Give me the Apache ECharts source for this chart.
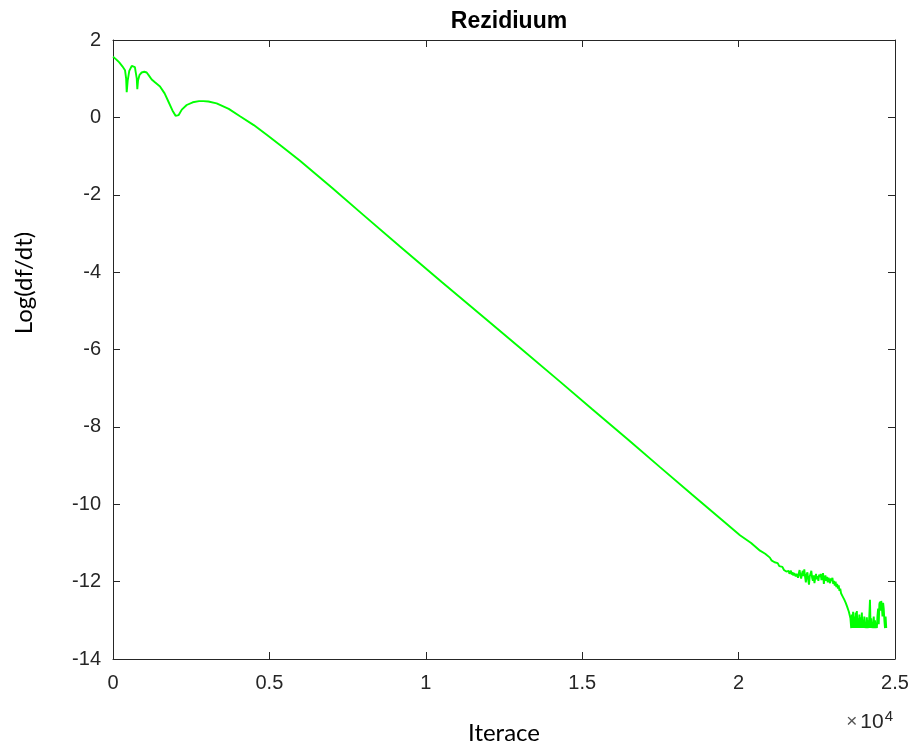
<!DOCTYPE html>
<html>
<head>
<meta charset="utf-8">
<script src="https://cdn.jsdelivr.net/npm/echarts@6/dist/echarts.min.js"></script>
<style>
html,body{margin:0;padding:0;background:#fff;}
#chart{width:914px;height:747px;}
</style>
</head>
<body>
<div id="chart"></div>
<script>
var titleText = 'Rezidiuum';
var xAxisName = 'Iterace';
var yAxisName = 'Log(df/dt)';
var xTicks = [0, 5000, 10000, 15000, 20000, 25000];
var yTicks = [-14, -12, -10, -8, -6, -4, -2, 0, 2];

var iterations = [
  0, 100, 200, 300, 384, 420, 438, 470, 520, 600, 650, 700, 760, 777, 800, 850, 917, 1000, 1077, 1150,
  1237, 1350, 1503, 1650, 1770, 1900, 2000, 2036, 2100, 2200, 2356, 2550, 2750, 2887, 3050, 3313, 3700, 4060,
  4500, 4914, 5400, 5978, 7000, 8000, 9175, 10500, 11947, 13000, 14290, 15303, 16500, 17487, 18500, 19405,
  20044, 20400, 20685, 20850,
  21000, 21050, 21100, 21150, 21200, 21250, 21300, 21350, 21400, 21450,
  21500, 21525, 21550, 21575, 21600, 21625, 21650, 21675, 21700, 21725, 21750, 21775, 21800, 21825, 21850, 21875,
  21900, 21925, 21950, 21975, 22000, 22025, 22050, 22075, 22100, 22125, 22150, 22175, 22200, 22225, 22250, 22275,
  22300, 22325, 22350, 22375, 22400, 22425, 22450, 22475, 22500, 22525, 22550, 22575, 22600, 22625, 22650, 22675,
  22700, 22725, 22750, 22775, 22800, 22825, 22850, 22875, 22900, 22925, 22950, 22975, 23000, 23025, 23050, 23075,
  23100, 23125, 23150, 23175, 23200, 23225, 23250, 23275, 23300, 23325, 23350, 23375, 23400, 23425, 23450, 23475,
  23500, 23525, 23550, 23575, 23600,
  23620, 23640, 23660, 23680, 23700, 23720, 23740, 23760, 23780, 23800, 23820, 23840, 23860, 23880, 23900, 23920,
  23940, 23960, 23980, 24000, 24020, 24040, 24060, 24080, 24100, 24120, 24140, 24160, 24180, 24200, 24220, 24240,
  24260, 24280, 24300, 24320, 24340, 24360, 24380, 24400, 24420, 24440, 24460, 24480, 24500, 24520, 24540, 24560,
  24580, 24600, 24620, 24640, 24660, 24680, 24700, 24720
];
var residual = [
  1.57, 1.50, 1.42, 1.32, 1.22, 1.00, 0.65, 0.95, 1.20, 1.33, 1.36, 1.30, 1.00, 0.73, 0.95, 1.10, 1.16, 1.18, 1.16, 1.08,
  0.98, 0.90, 0.80, 0.62, 0.41, 0.18, 0.04, 0.00, 0.06, 0.20, 0.32, 0.39, 0.42, 0.42, 0.41, 0.36, 0.22, 0.03,
  -0.20, -0.45, -0.75, -1.12, -1.82, -2.52, -3.34, -4.25, -5.23, -5.95, -6.83, -7.53, -8.35, -9.04, -9.74, -10.36,
  -10.80, -11.00, -11.20, -11.28,
  -11.38, -11.45, -11.42, -11.50, -11.55, -11.52, -11.60, -11.65, -11.62, -11.70,
  -11.68, -11.74, -11.70, -11.78, -11.72, -11.80, -11.76, -11.72, -11.82, -11.76, -11.84, -11.78, -11.74, -11.86, -11.80, -11.76,
  -11.90, -11.78, -11.70, -11.84, -11.92, -11.80, -11.72, -11.86, -11.68, -11.88, -12.02, -11.82, -11.76, -11.95, -12.08, -11.86,
  -11.80, -11.72, -11.90, -11.98, -11.84, -12.04, -11.90, -11.80, -11.94, -11.86, -11.98, -11.82, -11.88, -11.80, -11.96, -11.86,
  -11.78, -12.06, -11.90, -11.84, -11.98, -11.88, -12.02, -11.90, -11.86, -12.04, -11.92, -11.98, -11.90, -12.06, -11.98, -12.10,
  -12.00, -12.14, -12.06, -12.18, -12.10, -12.24, -12.18, -12.30, -12.26, -12.38, -12.34, -12.46, -12.42, -12.55, -12.52, -12.66,
  -12.62, -12.78, -12.74, -12.95, -13.20,
  -12.85, -13.20, -12.78, -13.20, -12.90, -13.20, -12.80, -13.20, -12.76, -13.20, -12.95, -13.20, -12.85, -13.20, -12.92, -13.20,
  -12.80, -13.20, -12.98, -13.20, -12.90, -13.20, -13.05, -13.20, -12.92, -13.20, -13.00, -13.20, -12.85, -12.47, -13.20, -12.95,
  -13.20, -13.05, -13.20, -12.90, -13.20, -13.00, -13.20, -13.10, -13.20, -12.88, -12.70, -13.10, -12.58, -12.52, -12.75, -12.50,
  -12.65, -12.90, -12.55, -12.70, -13.00, -13.20, -12.90, -13.20
];

var seriesData = iterations.map(function (x, i) { return [x, residual[i]]; });

var axisColor = '#262626';
var tickFont = 'Liberation Sans, Arial, sans-serif';

function baseX(pos, showLabels) {
  return {
    type: 'value', position: pos, min: xTicks[0], max: xTicks[xTicks.length - 1], interval: 5000,
    axisLine: { show: true, onZero: false, lineStyle: { color: axisColor, width: 1 } },
    axisTick: { show: true, inside: true, length: 7, lineStyle: { color: axisColor } },
    axisLabel: { show: showLabels, color: axisColor, fontSize: 20, fontFamily: tickFont, margin: 14,
      formatter: function (v) { return String(v / 10000); } },
    splitLine: { show: false }
  };
}
function baseY(pos, showLabels) {
  return {
    type: 'value', position: pos, min: yTicks[0], max: yTicks[yTicks.length - 1], interval: 2,
    axisLine: { show: true, onZero: false, lineStyle: { color: axisColor, width: 1 } },
    axisTick: { show: true, inside: true, length: 7, lineStyle: { color: axisColor } },
    axisLabel: { show: showLabels, color: axisColor, fontSize: 20, fontFamily: tickFont, margin: 12 },
    splitLine: { show: false }
  };
}

var chart = echarts.init(document.getElementById('chart'), null, { renderer: 'canvas' });
chart.setOption({
  animation: false,
  backgroundColor: '#ffffff',
  title: {
    text: titleText, left: 504, top: 5, textAlign: 'center',
    textStyle: { fontFamily: tickFont, fontWeight: 'bold', fontSize: 23, color: '#000' }
  },
  grid: { left: 113, right: 19, top: 40, bottom: 88, containLabel: false },
  xAxis: [baseX('bottom', true), baseX('top', false)],
  yAxis: [baseY('left', true), baseY('right', false)],
  graphic: [
    { type: 'text', x: 504, y: 733, style: { text: xAxisName, fontFamily: 'Lato, sans-serif', fontSize: 24,
      fill: '#000', textAlign: 'center', textVerticalAlign: 'middle' } },
    { type: 'text', x: 24, y: 283, rotation: Math.PI / 2, style: { text: yAxisName, fontFamily: 'Lato, sans-serif',
      fontSize: 24, fill: '#000', textAlign: 'center', textVerticalAlign: 'middle' } },
    { type: 'text', x: 893, y: 722, style: {
      text: '{a|×}{b|10}{c|4}', textAlign: 'right', textVerticalAlign: 'middle',
      rich: {
        a: { fontFamily: tickFont, fontSize: 19, fill: '#555', padding: [0, 3, 0, 0] },
        b: { fontFamily: tickFont, fontSize: 21, fill: axisColor },
        c: { fontFamily: tickFont, fontSize: 15, fill: axisColor, verticalAlign: 'top', padding: [0, 0, 10, 1] }
      } } }
  ],
  series: [{
    type: 'line', xAxisIndex: 0, yAxisIndex: 0, data: seriesData, showSymbol: false, symbol: 'none',
    lineStyle: { color: '#00ff00', width: 1.9 }, clip: true
  }]
});
</script>
</body>
</html>
